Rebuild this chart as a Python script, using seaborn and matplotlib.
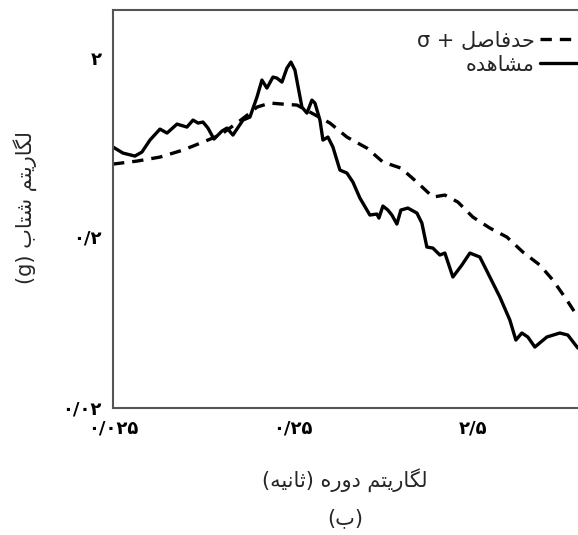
import matplotlib
matplotlib.use("Agg")
import matplotlib.pyplot as plt
from matplotlib.transforms import ScaledTranslation
import pandas as pd
import seaborn as sns

# ---------------- data ----------------
period_obs = [0.025, 0.0284, 0.0331, 0.0362, 0.0401, 0.0456, 0.0499, 0.0567, 0.0644,
              0.0696, 0.0742, 0.0791, 0.0843, 0.0910, 0.1008, 0.1075, 0.1160, 0.1319,
              0.1442, 0.1578, 0.1681, 0.1792, 0.1936, 0.2037, 0.2172, 0.2315, 0.2436,
              0.2565, 0.2805, 0.2990, 0.3188, 0.3313, 0.3532, 0.3670, 0.3913, 0.4171,
              0.4561, 0.4989, 0.5385, 0.5891, 0.6694, 0.7323, 0.7512, 0.7906, 0.8427,
              0.8870, 0.9456, 0.9953, 1.0884, 1.2213, 1.3019, 1.3877, 1.4987, 1.6393,
              1.7474, 1.9358, 2.172, 2.406, 2.734, 3.029, 3.532, 4.013, 4.334, 4.680,
              5.052, 5.526, 6.444, 7.608, 8.427, 9.579]
sa_obs = [1.176, 1.071, 1.022, 1.088, 1.312, 1.557, 1.464, 1.684, 1.607,
          1.793, 1.711, 1.738, 1.582, 1.333, 1.510, 1.582, 1.419, 1.793,
          1.879, 2.568, 3.348, 2.955, 3.509, 3.454, 3.245, 4.037, 4.435,
          3.913, 2.196, 2.000, 2.449, 2.338, 1.793, 1.312, 1.375, 1.176,
          0.8214, 0.7838, 0.6811, 0.5305, 0.4070, 0.4134, 0.3882, 0.4683, 0.4400,
          0.4070, 0.3535, 0.4400, 0.4538, 0.4199, 0.3591, 0.2469, 0.2430, 0.2180,
          0.2248, 0.1546, 0.1864, 0.2248, 0.2113, 0.1646, 0.1131, 0.0790, 0.0578, 0.0645,
          0.0606, 0.0518, 0.0606, 0.0645, 0.0625, 0.0510]

period_sig = [0.025, 0.0340, 0.0456, 0.0612, 0.0791, 0.0983, 0.1221, 0.1442, 0.1578,
              0.1863, 0.2200, 0.2631, 0.3108, 0.4014, 0.4989, 0.6443, 0.7906, 0.9953,
              1.2213, 1.4987, 1.7474, 2.064, 2.5, 3.108, 3.863, 4.740, 5.890, 6.958,
              8.322, 9.579]
sa_sig = [0.902, 0.945, 1.006, 1.122, 1.272, 1.419, 1.711, 2.000, 2.196,
          2.338, 2.301, 2.266, 2.031, 1.711, 1.375, 1.158, 0.931, 0.8473,
          0.6811, 0.5389, 0.5560, 0.4983, 0.3943, 0.3321, 0.2886, 0.2284, 0.1864, 0.1475,
          0.1079, 0.0828]

x_ticks = [0.025, 0.25, 2.5]
x_tick_labels = ["۰/۰۲۵", "۰/۲۵", "۲/۵"]
y_ticks = [0.02, 0.2, 2]
y_tick_labels = ["۰/۰۲", "۰/۲", "۲"]

legend_sigma = "حدفاصل + σ"
legend_obs = "مشاهده"
x_title = "لگاریتم دوره (ثانیه)"
y_title = "لگاریتم شتاب (g)"
caption = "(ب)"

# ---------------- minimal Persian shaping (visual order) ----------------
FORMS = {  # isolated, final, initial, medial
    'ا': ('\uFE8D', '\uFE8E', None, None),
    'ب': ('\uFE8F', '\uFE90', '\uFE91', '\uFE92'),
    'ت': ('\uFE95', '\uFE96', '\uFE97', '\uFE98'),
    'ث': ('\uFE99', '\uFE9A', '\uFE9B', '\uFE9C'),
    'ح': ('\uFEA1', '\uFEA2', '\uFEA3', '\uFEA4'),
    'د': ('\uFEA9', '\uFEAA', None, None),
    'ر': ('\uFEAD', '\uFEAE', None, None),
    'ش': ('\uFEB5', '\uFEB6', '\uFEB7', '\uFEB8'),
    'ص': ('\uFEB9', '\uFEBA', '\uFEBB', '\uFEBC'),
    'ف': ('\uFED1', '\uFED2', '\uFED3', '\uFED4'),
    'ل': ('\uFEDD', '\uFEDE', '\uFEDF', '\uFEE0'),
    'م': ('\uFEE1', '\uFEE2', '\uFEE3', '\uFEE4'),
    'ن': ('\uFEE5', '\uFEE6', '\uFEE7', '\uFEE8'),
    'ه': ('\uFEE9', '\uFEEA', '\uFEEB', '\uFEEC'),
    'و': ('\uFEED', '\uFEEE', None, None),
    'ی': ('\uFBFC', '\uFBFD', '\uFBFE', '\uFBFF'),
    'گ': ('\uFB92', '\uFB93', '\uFB94', '\uFB95'),
}
MIRROR = {'(': ')', ')': '('}


def shape(s):
    out = []
    for i, c in enumerate(s):
        f = FORMS.get(c)
        if f is None:
            out.append(c)
            continue
        prev = s[i - 1] if i > 0 else None
        nxt = s[i + 1] if i + 1 < len(s) else None
        jp = prev in FORMS and FORMS[prev][2] is not None
        jn = nxt in FORMS and f[2] is not None
        if jp and jn:
            out.append(f[3])
        elif jp:
            out.append(f[1])
        elif jn:
            out.append(f[2])
        else:
            out.append(f[0])
    return ''.join(out)


def rtl(s):
    return ''.join(MIRROR.get(c, c) for c in reversed(shape(s)))


# ---------------- plot ----------------
sns.set_style("white")
plt.rcParams['font.family'] = ['DejaVu Sans']

fig = plt.figure(figsize=(5.78, 5.35), dpi=100)
ax = fig.add_axes([113 / 578, 127 / 535, 1 - 113 / 578, 398 / 535])

df_sig = pd.DataFrame({"period": period_sig, "sa": sa_sig})
df_obs = pd.DataFrame({"period": period_obs, "sa": sa_obs})

sns.lineplot(data=df_sig, x="period", y="sa", ax=ax, color="black", lw=2.4,
             label=rtl(legend_sigma))
sns.lineplot(data=df_obs, x="period", y="sa", ax=ax, color="black", lw=2.4,
             label=rtl(legend_obs))
ax.lines[0].set_dashes([3.4, 2.4])

ax.set_xscale("log")
ax.set_yscale("log")
ax.set_xlim(0.025, 9.6)
ax.set_ylim(0.02, 10)

ax.set_xticks(x_ticks)
ax.set_xticklabels(x_tick_labels, fontweight="bold")
ax.set_yticks(y_ticks)
ax.set_yticklabels(y_tick_labels, fontweight="bold")
ax.minorticks_off()
ax.tick_params(axis="both", which="major", direction="out", length=5, width=1.2,
               color="#555555", labelsize=13, pad=3, labelcolor="black")

# tick labels in the reference sit above their tick marks on the y axis
y_offsets_px = [0, 24, 55]
for lab, dy in zip(ax.get_yticklabels(), y_offsets_px):
    lab.set_transform(lab.get_transform() + ScaledTranslation(0, dy / 100, fig.dpi_scale_trans))

for side in ["left", "bottom", "top"]:
    ax.spines[side].set_color("#555555")
    ax.spines[side].set_linewidth(1.5)
ax.spines["right"].set_visible(False)

ax.set_xlabel("")
ax.set_ylabel("")
fig.text(345 / 578, 1 - 480 / 535, rtl(x_title), ha="center", va="center", fontsize=15)
fig.text(345 / 578, 1 - 518 / 535, rtl(caption), ha="center", va="center", fontsize=15)
fig.text(25 / 578, 1 - 208 / 535, rtl(y_title), ha="center", va="center",
         rotation=90, fontsize=15)

h, l = ax.get_legend_handles_labels()
ax.legend(h, l, loc="upper right", bbox_to_anchor=(1.03, 0.985), frameon=False,
          markerfirst=False, handlelength=1.8, handletextpad=0.25,
          labelspacing=0.2, borderpad=0.2, prop={"size": 15})

fig.savefig("out.png", dpi=100)
